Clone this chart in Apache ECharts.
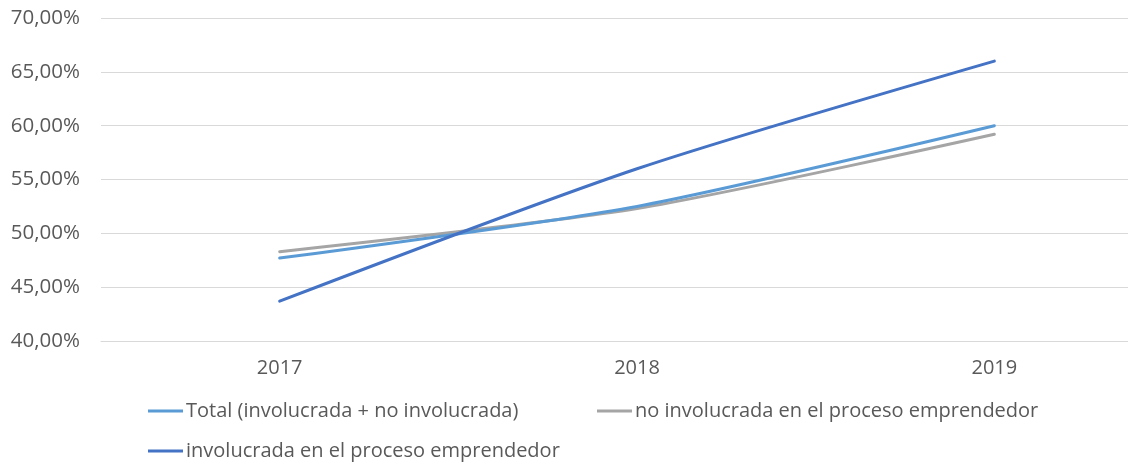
<!DOCTYPE html>
<html><head><meta charset="utf-8">
<script src="https://cdn.jsdelivr.net/npm/echarts@6/dist/echarts.min.js"></script>
<style>html,body{margin:0;padding:0;background:#fff;overflow:hidden}#c{width:1128px;height:466px}</style>
</head><body><div id="c"></div>
<script>
const categories = ['2017', '2018', '2019'];
const seriesNames = ['Total (involucrada + no involucrada)', 'no involucrada en el proceso emprendedor', 'involucrada en el proceso emprendedor'];
const totalValues = [47.7, 52.5, 60.0];
const noInvolucradaValues = [48.3, 52.3, 59.2];
const involucradaValues = [43.7, 56.0, 66.0];
const seriesColors = ['#5B9BD5', '#A5A5A5', '#4472C4'];

const chart = echarts.init(document.getElementById('c'));
const font = 'Open Sans';
const txt = '#595959';
const mk = (name, data, color, z) => ({
  name, type: 'line', data, smooth: 0.25, showSymbol: false, symbol: 'none', z,
  lineStyle: { color, width: 3, cap: 'round' }, itemStyle: { color }
});
const legendBase = {
  icon: 'rect', itemWidth: 35, itemHeight: 3, padding: 0,
  textStyle: { color: txt, fontSize: 20, fontFamily: font, padding: [0, 0, 0, -2] },
  orient: 'horizontal', selectedMode: false
};
chart.setOption({
  animation: false,
  grid: { left: 101, width: 1072, top: 18, bottom: 125, outerBoundsMode: 'none', containLabel: false },
  legend: [
    Object.assign({}, legendBase, { left: 148, top: 401, data: [seriesNames[0]] }),
    Object.assign({}, legendBase, { left: 597, top: 401, data: [seriesNames[1]] }),
    Object.assign({}, legendBase, { left: 148, top: 441, data: [seriesNames[2]] })
  ],
  xAxis: {
    type: 'category', data: categories, boundaryGap: true,
    axisLine: { lineStyle: { color: '#D9D9D9', width: 1 } },
    axisTick: { show: false },
    axisLabel: { color: txt, fontSize: 20, fontFamily: font, margin: 17 }
  },
  yAxis: {
    type: 'value', min: 40, max: 70, interval: 5,
    axisLine: { show: false }, axisTick: { show: false },
    splitLine: { lineStyle: { color: '#D9D9D9', width: 1 } },
    axisLabel: {
      color: txt, fontSize: 20.5, fontFamily: font, margin: 21,
      formatter: v => v.toFixed(2).replace('.', ',') + '%'
    }
  },
  series: [
    mk(seriesNames[0], totalValues, seriesColors[0], 3),
    mk(seriesNames[1], noInvolucradaValues, seriesColors[1], 2),
    mk(seriesNames[2], involucradaValues, seriesColors[2], 4)
  ]
});
</script></body></html>
